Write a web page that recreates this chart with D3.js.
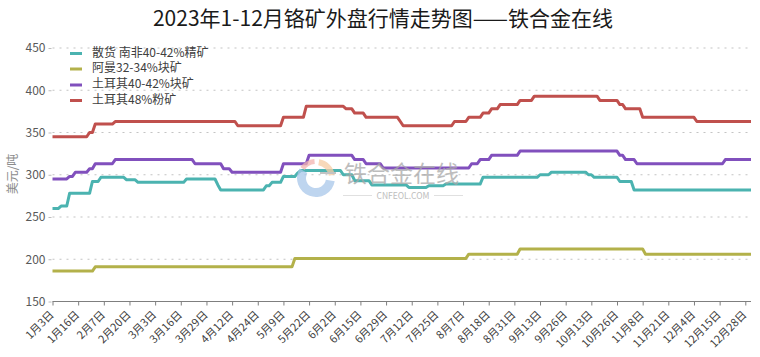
<!DOCTYPE html>
<html>
<head>
<meta charset="utf-8">
<script src="https://cdn.jsdelivr.net/npm/d3@7/dist/d3.min.js"></script>
<style>
  html, body { margin: 0; padding: 0; background: #ffffff; }
  svg { display: block; }
</style>
</head>
<body>
<svg id="chart" width="760" height="357"></svg>
<script>
// ---------------- DATA ----------------
const chartTitle = "2023年1-12月铬矿外盘行情走势图——铁合金在线";
const yAxisTitle = "美元/吨";
const seriesNames = ["散货 南非40-42%精矿", "阿曼32-34%块矿", "土耳其40-42%块矿", "土耳其48%粉矿"];
const seriesColors = ["#4bb3b0", "#b3b14a", "#8150bd", "#c0504d"];
const yTicks = [150, 200, 250, 300, 350, 400, 450];
const tickLabels = ["1月3日","1月16日","2月7日","2月20日","3月3日","3月16日","3月29日","4月12日","4月24日","5月9日",
  "5月22日","6月2日","6月15日","6月29日","7月12日","7月25日","8月7日","8月18日","8月31日","9月13日",
  "9月26日","10月13日","10月26日","11月8日","11月21日","12月4日","12月15日","12月28日"];
const tickEvery = 9; // one labelled tick every 9 trading days

// 散货 南非40-42%精矿
const saConc = [
  260,260,260,
  263,263,263,
  278,278,278,278,278,278,278,278,
  292,292,292,
  297,297,297,297,297,297,297,297,297,
  294,294,294,294,
  291,291,291,291,291,291,291,291,291,291,291,291,291,291,291,291,291,
  295,295,295,295,295,295,295,295,295,295,295,
  288,
  282,282,282,282,282,282,282,282,282,282,282,282,282,282,282,282,
  287,287,
  291,291,291,291,
  298,298,298,298,298,
  302,
  305,305,305,305,305,305,305,305,305,305,305,305,305,305,305,
  300,300,300,300,
  293,293,293,293,293,293,
  288,288,288,288,288,288,288,288,288,288,288,288,288,
  285,285,285,285,285,285,285,
  287,287,287,287,287,287,
  289,289,289,289,289,289,289,289,289,289,289,289,289,
  297,297,297,297,297,297,297,297,297,297,297,297,297,297,297,297,297,297,297,297,
  300,300,300,300,
  303,303,303,303,303,303,303,303,303,303,303,303,303,
  300,300,
  297,297,297,297,297,297,297,297,297,
  292,292,292,292,292,
  282,282,282,282,282,282,282,282,282,282,282,282,282,282,282,282,282,282,282,282,282,
  282,282,282,282,282,282,282,282,282,282,282,282,282,282,282,282,282,282,282,282,282
];

// 阿曼32-34%块矿
const omanLump = [
  186,186,186,186,186,186,186,186,186,186,186,186,186,186,186,
  191,191,191,191,191,191,191,191,191,191,191,191,191,191,191,191,191,191,191,191,
  191,191,191,191,191,191,191,191,191,191,191,191,191,191,191,191,191,191,191,191,
  191,191,191,191,191,191,191,191,191,191,191,191,191,191,191,191,191,191,191,191,
  191,191,191,191,191,191,191,191,191,191,
  201,201,201,201,201,201,201,201,201,201,201,201,201,201,201,201,201,201,201,201,
  201,201,201,201,201,201,201,201,201,201,201,201,201,201,201,201,201,201,201,201,
  201,201,201,201,201,201,201,201,201,201,201,201,201,201,201,201,201,201,201,201,
  201,
  206,206,206,206,206,206,206,206,206,206,206,206,206,206,206,206,206,206,
  212,212,212,212,212,212,212,212,212,212,212,212,212,212,212,212,212,212,212,212,
  212,212,212,212,212,212,212,212,212,212,212,212,212,212,212,212,212,212,212,212,
  212,212,212,212,
  206,206,206,206,206,206,206,206,206,206,206,206,206,206,206,206,206,206,206,206,
  206,206,206,206,206,206,206,206,206,206,206,206,206,206,206,206,206,206
];

// 土耳其40-42%块矿
const turkeyLump = [
  295,295,295,295,295,295,
  298,298,
  303,303,303,303,303,
  307,307,
  313,313,313,313,313,313,313,
  318,318,318,318,318,318,318,318,318,318,318,318,318,318,318,318,318,318,318,318,
  318,318,318,318,318,318,318,318,
  313,313,313,313,313,313,313,313,313,313,
  307,307,307,
  303,303,303,303,303,303,303,303,303,303,303,303,303,303,303,303,303,303,
  313,313,313,313,313,313,313,313,313,
  323,323,323,323,323,323,323,323,323,323,323,323,323,323,323,323,
  318,318,318,318,
  313,313,313,313,313,313,
  308,308,308,308,308,308,308,308,308,308,308,308,308,308,308,308,308,308,308,308,
  308,308,308,308,308,308,308,308,308,308,308,
  313,313,313,
  318,318,318,318,
  323,323,323,323,323,323,323,323,323,323,
  328,328,328,328,328,328,328,328,328,328,328,328,328,328,328,328,328,328,328,328,
  328,328,328,328,328,328,328,328,328,328,328,328,328,328,328,
  323,323,
  318,318,318,318,
  313,313,313,313,313,313,313,313,313,313,313,313,313,313,313,313,313,313,313,313,
  313,313,313,313,313,313,313,313,313,313,313,
  318,318,318,318,318,318,318,318,318,318
];

// 土耳其48%粉矿
const turkeyFines = [
  345,345,345,345,345,345,345,345,345,345,345,345,345,
  350,350,
  360,360,360,360,360,360,360,
  363,363,363,363,363,363,363,363,363,363,363,363,363,363,363,363,363,363,363,363,
  363,363,363,363,363,363,363,363,363,363,363,363,363,363,363,363,363,363,363,363,
  363,363,363,
  358,358,358,358,358,358,358,358,358,358,358,358,358,358,358,358,
  368,368,368,368,368,368,368,368,
  381,381,381,381,381,381,381,381,381,381,381,381,381,381,
  378,378,378,
  373,373,373,373,
  368,368,368,368,368,368,368,368,368,368,368,368,
  363,
  358,358,358,358,358,358,358,358,358,358,358,358,358,358,358,358,358,358,
  363,363,363,363,363,
  368,368,368,368,368,
  373,373,373,
  378,378,378,
  383,383,383,383,383,383,383,
  388,388,388,388,388,
  393,393,393,393,393,393,393,393,393,393,393,393,393,393,393,393,393,393,393,393,
  393,393,393,
  388,388,388,388,388,388,388,
  383,383,
  378,378,378,378,378,378,
  368,368,368,368,368,368,368,368,368,368,368,368,368,368,368,368,368,368,368,
  363,363,363,363,363,363,363,363,363,363,363,363,363,363,363,363,363,363,363,363
];

const allSeries = [saConc, omanLump, turkeyLump, turkeyFines];

// ---------------- CHART ----------------
const svg = d3.select("#chart");
const FONT = "'Noto Sans CJK SC', 'Noto Sans', sans-serif";
const nPoints = saConc.length;

const plotLeft = 52.5, plotRight = 751, plotTop = 48, plotBottom = 301.5;

const x = d3.scalePoint().domain(d3.range(nPoints)).range([plotLeft, plotRight]);
const y = d3.scaleLinear().domain([150, 450]).range([plotBottom, plotTop]);

// title
svg.append("text")
  .attr("x", 383).attr("y", 26)
  .attr("text-anchor", "middle")
  .attr("font-family", FONT).attr("font-size", 21)
  .attr("fill", "#1a1a1a")
  .text(chartTitle);

// gridlines (dotted)
svg.append("g")
  .selectAll("line")
  .data(yTicks.filter(d => d > 150))
  .join("line")
  .attr("x1", plotLeft).attr("x2", plotRight)
  .attr("y1", d => y(d)).attr("y2", d => y(d))
  .attr("stroke", "#c4c4c4").attr("stroke-width", 1.2)
  .attr("stroke-dasharray", "2,5");

// y axis (labels, small ticks, no line)
const yAxis = d3.axisLeft(y).tickValues(yTicks).tickSize(3).tickPadding(3).tickFormat(d3.format("d"));
const gy = svg.append("g").attr("transform", `translate(${plotLeft - 1},0)`).call(yAxis);
gy.select(".domain").remove();
gy.selectAll(".tick line").attr("stroke", "#bdbdbd");
gy.selectAll(".tick text")
  .attr("font-family", FONT).attr("font-size", 12).attr("fill", "#595959");

// y title
svg.append("text")
  .attr("transform", "translate(14,174) rotate(-90)")
  .attr("text-anchor", "middle").attr("dominant-baseline", "middle")
  .attr("font-family", FONT).attr("font-size", 12).attr("fill", "#8c8c8c")
  .text(yAxisTitle);

// x axis
const tickIdx = tickLabels.map((_, i) => i * tickEvery);
const xAxis = d3.axisBottom(x).tickValues(tickIdx).tickSize(4).tickFormat("");
const gx = svg.append("g").attr("transform", `translate(0,${plotBottom})`).call(xAxis);
gx.select(".domain").attr("stroke", "#7f7f7f").attr("d", `M${plotLeft},0H${plotRight}`);
gx.selectAll(".tick line").attr("stroke", "#7f7f7f");

svg.append("g")
  .selectAll("text")
  .data(tickLabels)
  .join("text")
  .attr("transform", (d, i) => `translate(${x(tickIdx[i]) + 2},${plotBottom + 14}) rotate(-45)`)
  .attr("text-anchor", "end")
  .attr("font-family", FONT).attr("font-size", 11).attr("fill", "#404040")
  .text(d => d);

// lines
const line = d3.line().x((d, i) => x(i)).y(d => y(d));
svg.append("g")
  .selectAll("path")
  .data(allSeries)
  .join("path")
  .attr("d", d => line(d))
  .attr("fill", "none")
  .attr("stroke", (d, i) => seriesColors[i])
  .attr("stroke-width", 3)
  .attr("stroke-linejoin", "round");

// legend
const legend = svg.append("g");
const legendRows = [53.5, 69, 85, 100.5];
seriesNames.forEach((name, i) => {
  legend.append("line")
    .attr("x1", 70).attr("x2", 82)
    .attr("y1", legendRows[i]).attr("y2", legendRows[i])
    .attr("stroke", seriesColors[i]).attr("stroke-width", 3);
  legend.append("text")
    .attr("x", 92).attr("y", legendRows[i])
    .attr("dominant-baseline", "middle")
    .attr("font-family", FONT).attr("font-size", 12).attr("fill", "#404040")
    .text(name);
});

// watermark
const wm = svg.append("g").attr("opacity", 0.75);
const arc = d3.arc();
const logoC = [316, 178];
wm.append("path")
  .attr("transform", `translate(${logoC[0]},${logoC[1]})`)
  .attr("d", arc({innerRadius: 10, outerRadius: 19, startAngle: 100 * Math.PI / 180, endAngle: 300 * Math.PI / 180}))
  .attr("fill", "#a9c7ea");
wm.append("path")
  .attr("transform", `translate(${logoC[0]},${logoC[1]})`)
  .attr("d", arc({innerRadius: 13, outerRadius: 19, startAngle: 10 * Math.PI / 180, endAngle: 80 * Math.PI / 180}))
  .attr("fill", "#f6cda4");
wm.append("path")
  .attr("transform", `translate(${logoC[0]},${logoC[1]})`)
  .attr("d", arc({innerRadius: 14, outerRadius: 19, startAngle: 305 * Math.PI / 180, endAngle: 355 * Math.PI / 180}))
  .attr("fill", "#f2b4b0");
wm.append("line")
  .attr("x1", 320).attr("x2", 336).attr("y1", 173).attr("y2", 173)
  .attr("stroke", "#b0b0b0").attr("stroke-width", 2);
wm.append("text")
  .attr("x", 344).attr("y", 182)
  .attr("font-family", FONT).attr("font-size", 23).attr("fill", "#a8a8a8")
  .text("铁合金在线");
wm.append("text")
  .attr("x", 403).attr("y", 199).attr("text-anchor", "middle")
  .attr("font-family", FONT).attr("font-size", 8.5).attr("fill", "#a8a8a8")
  .text("CNFEOL.COM");
wm.append("line").attr("x1", 343).attr("x2", 372).attr("y1", 195.5).attr("y2", 195.5)
  .attr("stroke", "#cccccc").attr("stroke-width", 0.8);
wm.append("line").attr("x1", 434).attr("x2", 463).attr("y1", 195.5).attr("y2", 195.5)
  .attr("stroke", "#cccccc").attr("stroke-width", 0.8);
</script>
</body>
</html>
